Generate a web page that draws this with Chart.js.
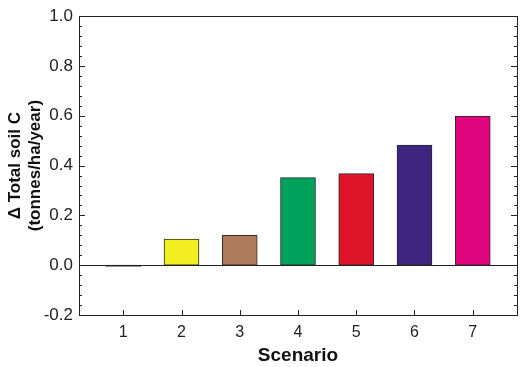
<!DOCTYPE html>
<html>
<head>
<meta charset="utf-8">
<script src="https://cdn.jsdelivr.net/npm/chart.js@4/dist/chart.umd.min.js"></script>
<style>
  html, body { margin: 0; padding: 0; background: #fff; }
  #wrap { width: 522px; height: 367px; }
</style>
</head>
<body>
<div id="wrap"><canvas id="soilC"></canvas></div>
<script>
// Variation du carbone total du sol par scénario
const scenarios = [1, 2, 3, 4, 5, 6, 7];
const soilC = [-0.005, 0.105, 0.12, 0.352, 0.368, 0.482, 0.599];
const barColors = ["#111111", "#f3ee1f", "#b07b5b", "#00a15b", "#e01429", "#3d2581", "#e0057f"];
const yMajor = [-0.2, 0.0, 0.2, 0.4, 0.6, 0.8, 1.0];
const yMinorStep = 0.04;

// Cadre, ligne zéro et graduations vers l'intérieur
const framePlugin = {
  id: "frame",
  afterDraw(chart) {
    const ctx = chart.ctx;
    const a = chart.chartArea;
    const x = chart.scales.x;
    const y = chart.scales.y;
    ctx.save();
    ctx.strokeStyle = "#222";
    ctx.lineWidth = 1;

    // ligne zéro
    const y0 = Math.round(y.getPixelForValue(0)) + 0.5;
    ctx.beginPath();
    ctx.moveTo(a.left, y0);
    ctx.lineTo(a.right, y0);
    ctx.stroke();

    // cadre
    ctx.strokeRect(Math.round(a.left) + 0.5, Math.round(a.top) + 0.5,
      Math.round(a.right - a.left), Math.round(a.bottom - a.top));

    // graduations Y (majeures + mineures), gauche et droite
    ctx.beginPath();
    for (let v = yMajor[0]; v <= yMajor[yMajor.length - 1] + 1e-9; v += yMinorStep) {
      const isMajor = yMajor.some((m) => Math.abs(m - v) < 1e-6);
      const len = isMajor ? 6 : 3;
      const py = Math.round(y.getPixelForValue(v)) + 0.5;
      ctx.moveTo(a.left, py);
      ctx.lineTo(a.left + len, py);
      ctx.moveTo(a.right, py);
      ctx.lineTo(a.right - len, py);
    }
    // graduations X
    scenarios.forEach((s) => {
      const px = Math.round(x.getPixelForValue(s)) + 0.5;
      ctx.moveTo(px, a.bottom);
      ctx.lineTo(px, a.bottom - 5);
    });
    ctx.stroke();
    ctx.restore();
  },
};

const canvas = document.getElementById("soilC");

new Chart(canvas, {
  type: "bar",
  data: {
    datasets: [
      {
        data: scenarios.map((s, i) => ({ x: s, y: soilC[i] })),
        backgroundColor: barColors,
        borderColor: "#2a2a2a",
        borderWidth: 1,
        barThickness: 35,
        borderSkipped: false,
      },
    ],
  },
  options: {
    responsive: true,
    maintainAspectRatio: false,
    animation: false,
    layout: { padding: { top: 8, right: 5, left: 0, bottom: 0 } },
    plugins: {
      legend: { display: false },
      tooltip: { enabled: false },
    },
    scales: {
      x: {
        type: "linear",
        offset: false,
        min: 0.24,
        max: 7.76,
        afterBuildTicks: (scale) => {
          scale.ticks = scenarios.map((s) => ({ value: s }));
        },
        afterFit: (scale) => {
          scale.height = 52;
        },
        grid: { display: false, drawTicks: false },
        border: { display: false },
        ticks: {
          padding: 8,
          color: "#222",
          font: { family: "Liberation Sans, Arial", size: 16 },
        },
        title: {
          display: true,
          text: "Scenario",
          color: "#111",
          padding: { top: 2, bottom: 0 },
          font: { family: "Liberation Sans, Arial", size: 19, weight: "bold" },
        },
      },
      y: {
        min: -0.2,
        max: 1.0,
        afterBuildTicks: (scale) => {
          scale.ticks = yMajor.map((v) => ({ value: v }));
        },
        afterFit: (scale) => {
          scale.width = 79;
        },
        grid: { display: false, drawTicks: false },
        border: { display: false },
        ticks: {
          padding: 6,
          color: "#222",
          font: { family: "Liberation Sans, Arial", size: 17 },
          callback: (v) => Number(v).toFixed(1),
        },
        title: {
          display: true,
          text: ["\u0394 Total soil C", "(tonnes/ha/year)"],
          color: "#111",
          padding: { top: 6, bottom: 0 },
          font: { family: "Liberation Sans, Arial", size: 17, weight: "bold", lineHeight: 1.15 },
        },
      },
    },
  },
  plugins: [framePlugin],
});
</script>
</body>
</html>
